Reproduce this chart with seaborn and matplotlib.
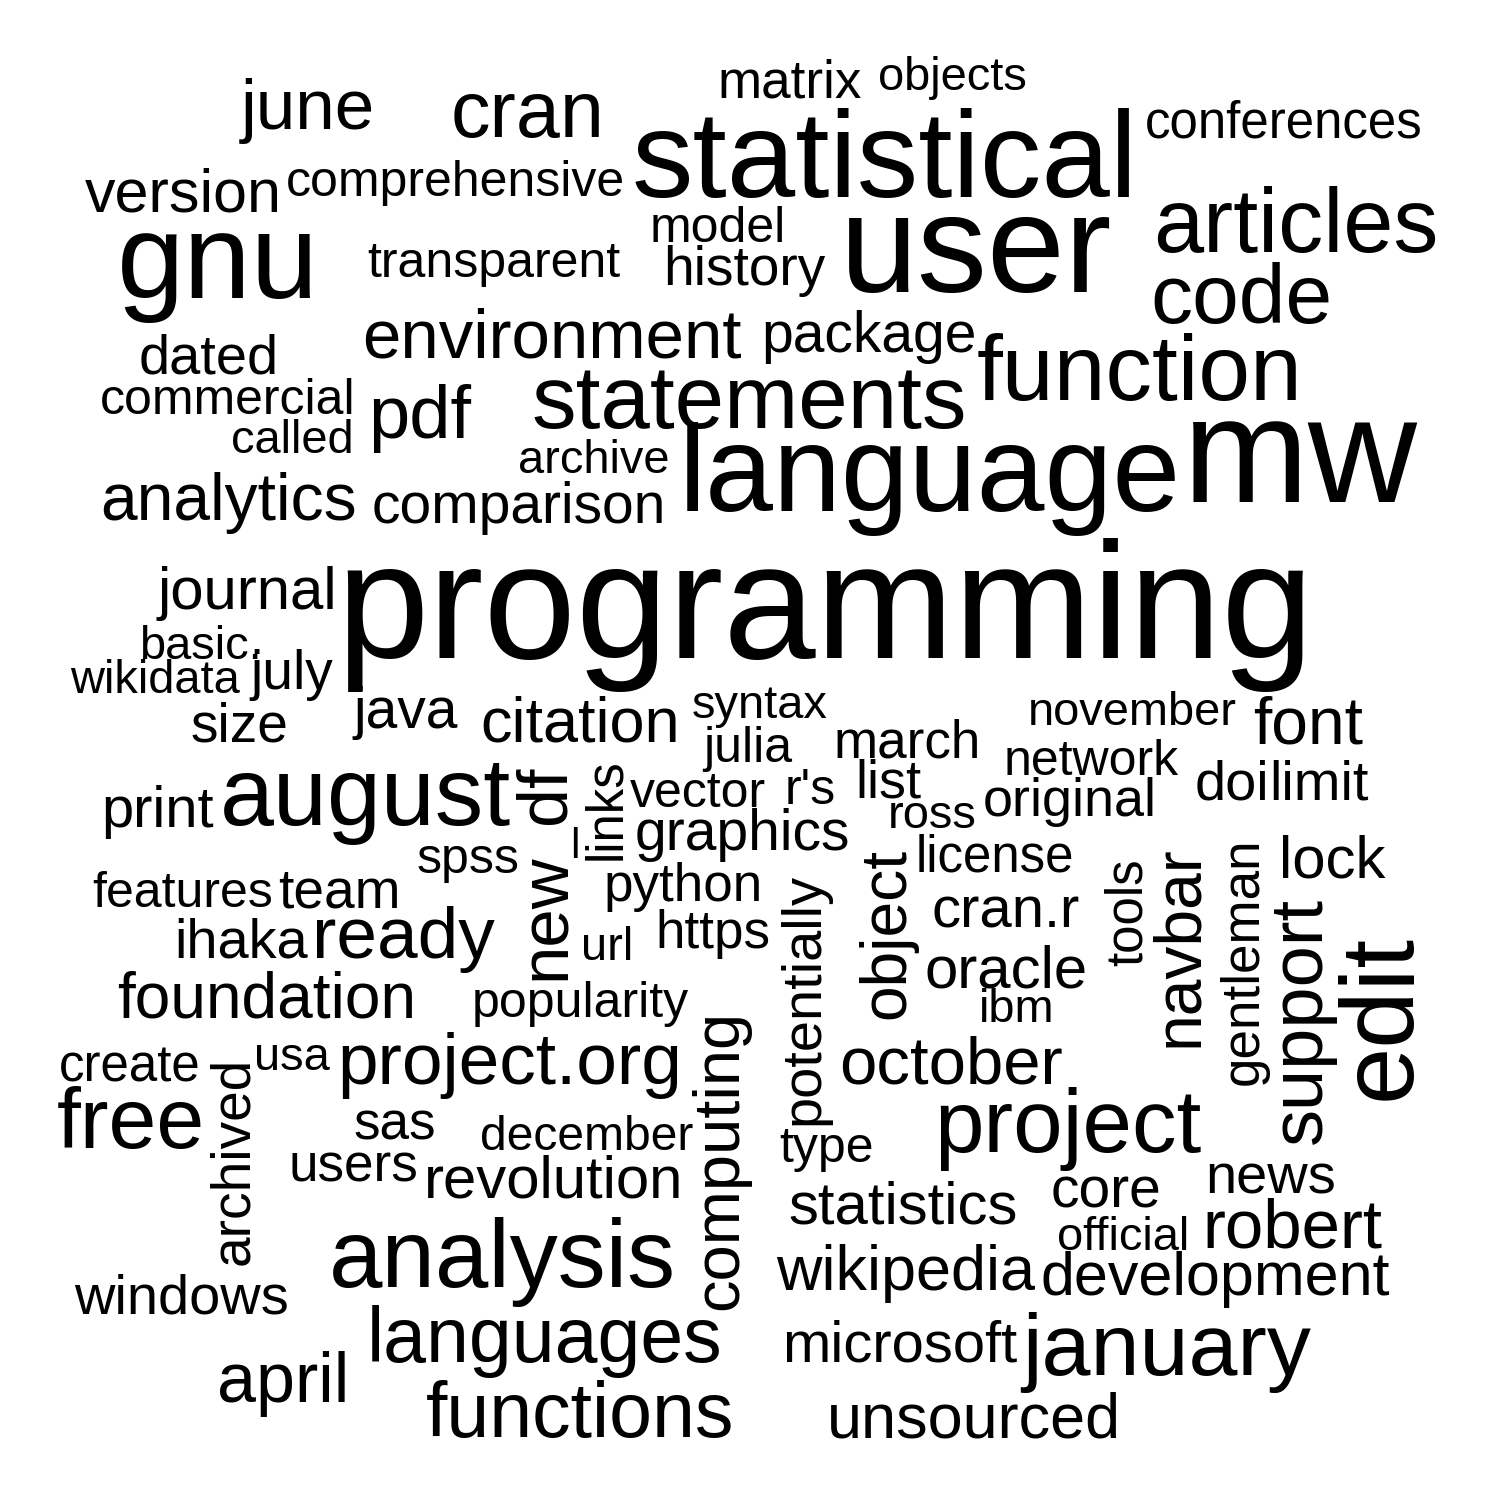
import pandas as pd
import matplotlib
matplotlib.use("Agg")
import matplotlib.pyplot as plt
import seaborn as sns

# words and their weights (frequency -> font size)
words = ["programming", "mw", "user", "statistical", "gnu", "language", "edit",
         "august", "analysis", "function", "articles", "statements", "project",
         "january", "code", "cran", "languages", "functions", "pdf", "ready",
         "project.org", "support", "june", "df", "environment", "new", "april",
         "robert", "october", "free", "analytics", "computing", "navbar", "object",
         "font", "foundation", "citation", "version", "wikipedia", "unsourced",
         "development", "journal", "oracle", "revolution", "statistics", "lock",
         "cran.r", "print", "microsoft", "comparison", "package", "java", "graphics",
         "core", "ihaka", "july", "size", "dated", "doi", "limit", "potentially",
         "history", "team", "windows", "news", "archived", "original", "list",
         "matrix", "python", "https", "sas", "users", "march", "gentleman",
         "license", "create", "tools", "links", "comprehensive", "transparent",
         "model", "commercial", "conferences", "julia", "vector", "r's", "network",
         "spss", "features", "popularity", "december", "type", "called", "archive",
         "basic.", "wikidata", "syntax", "november", "ross", "url", "ibm", "usa",
         "official", "objects", "l"]
weights = [166, 151, 140, 123, 121, 122, 103,
           97, 96, 93, 90, 89, 89,
           88, 84, 79, 77, 77, 74, 73,
           73, 74, 71, 70, 69, 69, 70,
           69, 67, 86, 66, 65, 66, 64,
           66, 64, 63, 61, 63, 63,
           61, 60, 60, 60, 60, 60,
           58, 58, 58, 57, 57, 57, 57,
           57, 56, 55, 55, 56, 56, 56, 56,
           55, 55, 56, 56, 55, 54, 54,
           53, 53, 53, 53, 53, 53, 53,
           51, 51, 51, 51, 50, 50,
           50, 50, 51, 50, 50, 50, 50,
           50, 50, 50, 48, 50, 47, 47,
           47, 47, 47, 47, 47, 47, 47, 47,
           47, 47, 42]

# layout (pixel positions on a 1500 x 1500 canvas, baseline anchored)
pos_x = [825, 1300, 976, 885, 218, 930, 1410,
         365, 502, 1140, 1296, 749, 1068,
         1167, 1241, 528, 545, 580, 420, 403,
         510, 1321, 308, 565, 552, 565, 283,
         1292, 951, 131, 229, 737, 1197, 904,
         1308, 267, 580, 183, 906, 974,
         1215, 247, 1006, 554, 903, 1332,
         1006, 158, 900, 519, 869, 406, 742,
         1106, 241, 292, 239, 209, 1232, 1319, 818,
         744, 339, 181, 1271, 248, 1070, 888,
         790, 683, 713, 395, 353, 907, 1258,
         995, 130, 1142, 620, 455, 494,
         718, 228, 1284, 748, 698, 810, 1091,
         468, 183, 580, 587, 827, 292, 594,
         200, 155, 760, 1132, 932, 607, 1017, 292,
         1123, 952, 575]
pos_y = [658, 502, 292, 197, 298, 511, 1017,
         825, 1287, 400, 252, 428, 1152,
         1375, 323, 137, 1362, 1437, 438, 958,
         1084, 1021, 129, 795, 357, 917, 1402,
         1248, 1083, 1148, 520, 1160, 946, 933,
         743, 1018, 742, 212, 1290, 1437,
         1295, 609, 987, 1198, 1223, 877,
         928, 827, 1362, 523, 352, 728, 850,
         1207, 958, 689, 742, 373, 799, 799, 999,
         285, 908, 1313, 1193, 1161, 816, 798,
         97, 901, 948, 1139, 1182, 758, 961,
         872, 1082, 912, 809, 196, 277,
         242, 414, 138, 762, 807, 804, 775,
         873, 907, 1017, 1150, 1162, 453, 473,
         659, 693, 718, 725, 828, 960, 1022, 1070,
         1250, 90, 858]
vertical = {"edit", "support", "df", "new", "computing", "navbar", "object",
            "potentially", "archived", "gentleman", "tools", "links"}

df = pd.DataFrame({"word": words, "weight": weights, "x": pos_x, "y": pos_y})
df["rot"] = [90 if w in vertical else 0 for w in df["word"]]

sns.set_style("white")
plt.rcParams['font.family'] = ['Liberation Sans', 'DejaVu Sans']

fig = plt.figure(figsize=(15, 15), dpi=100)
ax = fig.add_axes([0, 0, 1, 1])
ax.set_xlim(0, 1500)
ax.set_ylim(1500, 0)
ax.set_axis_off()

for _, r in df.iterrows():
    ax.text(r["x"], r["y"], r["word"], fontsize=r["weight"] * 0.72,
            ha="center", va="baseline", rotation=r["rot"],
            rotation_mode="anchor", color="black")

fig.savefig("out.png", dpi=100, facecolor="white")
